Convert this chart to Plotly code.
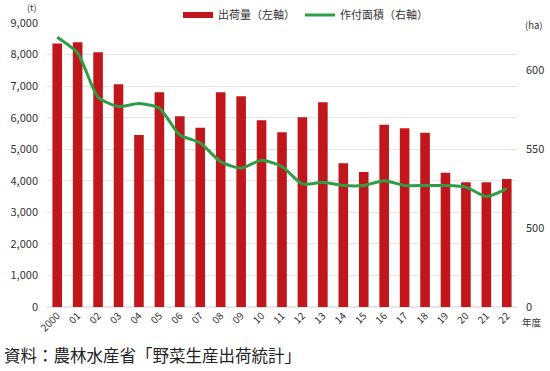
import plotly.graph_objects as go

years = ["2000", "01", "02", "03", "04", "05", "06", "07", "08", "09", "10", "11",
         "12", "13", "14", "15", "16", "17", "18", "19", "20", "21", "22"]
shipment_t = [8350, 8390, 8070, 7056, 5450, 6803, 6042, 5681, 6803, 6676, 5916, 5535,
              6010, 6486, 4553, 4278, 5776, 5662, 5523, 4255, 3951, 3951, 4056]
area_ha = [621, 611, 583, 577, 579, 576, 559, 554, 542, 538, 543, 539,
           528, 529, 527, 527, 530, 527, 527, 527, 526, 520, 525]

FONT = "Noto Sans CJK JP"
BAR_COLOR = "#c0161c"
LINE_COLOR = "#2e9e44"

W, H = 550, 371
ML, MR, MT, MB = 47, 33, 23, 64
PW, PH = W - ML - MR, H - MT - MB

fig = go.Figure()
fig.add_trace(go.Bar(x=years, y=shipment_t, name="出荷量（左軸）", showlegend=False,
                     marker=dict(color=BAR_COLOR, line=dict(width=0)), yaxis="y"))
# legend entry drawn as a thick bar-like swatch
fig.add_trace(go.Scatter(x=[None], y=[None], name="出荷量（左軸）", mode="lines",
                         line=dict(color=BAR_COLOR, width=6), yaxis="y"))
fig.add_trace(go.Scatter(x=years, y=area_ha, name="作付面積（右軸）", mode="lines",
                         line=dict(color=LINE_COLOR, width=3, shape="spline", smoothing=0.6),
                         yaxis="y2"))

fig.update_layout(
    width=W, height=H,
    margin=dict(l=ML, r=MR, t=MT, b=MB, autoexpand=False),
    paper_bgcolor="white", plot_bgcolor="white",
    font=dict(family=FONT, size=11, color="#333333"),
    bargap=0.53,
    showlegend=True,
    legend=dict(orientation="h", x=178 / W, y=1 - 15 / H, xref="container", yref="container",
                xanchor="left", yanchor="middle",
                font=dict(size=11, color="#333"), itemwidth=30, tracegroupgap=0,
                bgcolor="rgba(0,0,0,0)"),
    xaxis=dict(tickangle=-45, tickfont=dict(size=10, color="#333"), showgrid=False,
               showline=False, ticks="", range=[-0.5, 22.5], automargin=False),
    yaxis=dict(range=[0, 9000], dtick=1000, tickformat=",", showgrid=True,
               gridcolor="#e6e6e6", gridwidth=1, zeroline=True, zerolinecolor="#e6e6e6",
               tickfont=dict(size=11, color="#333"), ticks="", ticklabelstandoff=8,
               automargin=False),
    yaxis2=dict(range=[450, 630], overlaying="y", side="right",
                tickvals=[450, 500, 550, 600], ticktext=["0", "500", "550", "600"],
                showgrid=False, zeroline=False, tickfont=dict(size=11, color="#333"),
                ticks="", ticklabelstandoff=8, automargin=False),
    annotations=[
        dict(text="(t)", xref="paper", yref="paper", x=(31 - ML) / PW, y=(MT + PH - 8) / PH,
             showarrow=False, xanchor="center", yanchor="middle",
             font=dict(size=9, color="#333")),
        dict(text="(ha)", xref="paper", yref="paper", x=(545 - ML) / PW, y=(MT + PH - 25) / PH,
             showarrow=False, xanchor="right", yanchor="middle",
             font=dict(size=9.5, color="#333")),
        dict(text="年度", xref="paper", yref="paper", x=(544 - ML) / PW, y=(MT + PH - 322) / PH,
             showarrow=False, xanchor="right", yanchor="middle",
             font=dict(size=9.5, color="#333")),
        dict(text="資料：農林水産省「野菜生産出荷統計」", xref="paper", yref="paper",
             x=(2 - ML) / PW, y=(MT + PH - 355) / PH, showarrow=False,
             xanchor="left", yanchor="middle", font=dict(size=16.5, color="#222")),
    ],
)

fig.write_html("out.html", config={"displayModeBar": False},
               post_script="document.body.style.margin='0';document.body.style.padding='0';")
